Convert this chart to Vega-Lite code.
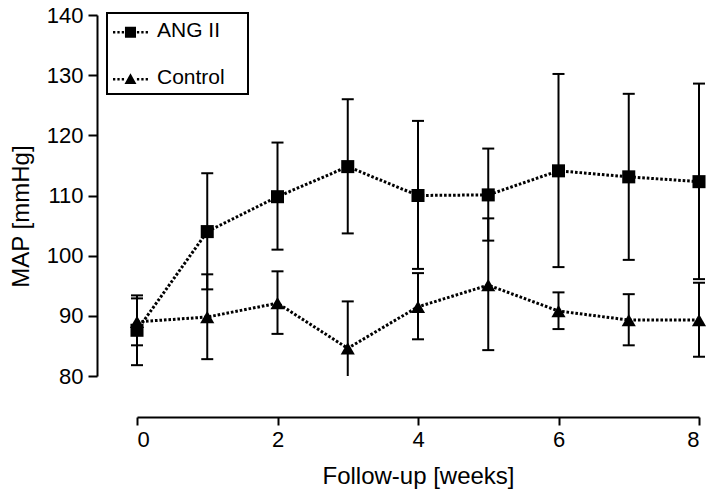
{
  "$schema": "https://vega.github.io/schema/vega-lite/v6.json",
  "width": 562,
  "height": 361,
  "autosize": "none",
  "padding": {"left": 137, "top": 15, "right": 10, "bottom": 116},
  "background": "white",
  "config": {
    "view": {"stroke": null},
    "font": "Liberation Sans",
    "axis": {
      "domainColor": "black", "domainWidth": 2, "tickColor": "black", "tickWidth": 2,
      "labelColor": "black", "labelFontSize": 22, "labelFont": "Liberation Sans",
      "titleColor": "black", "titleFontSize": 24, "titleFontWeight": "normal", "titleFont": "Liberation Sans",
      "grid": false
    },
    "legend": {"strokeColor": "black", "strokeWidth": 2}
  },
  "data": {
    "values": [
      {"week": 0, "group": "ANG II", "mean": 87.6, "lower": 81.8, "upper": 93.4},
      {"week": 1, "group": "ANG II", "mean": 104.0, "lower": 94.4, "upper": 113.7},
      {"week": 2, "group": "ANG II", "mean": 109.8, "lower": 101.0, "upper": 118.8},
      {"week": 3, "group": "ANG II", "mean": 114.8, "lower": 103.7, "upper": 126.0},
      {"week": 4, "group": "ANG II", "mean": 110.0, "lower": 97.8, "upper": 122.4},
      {"week": 5, "group": "ANG II", "mean": 110.1, "lower": 102.5, "upper": 117.8},
      {"week": 6, "group": "ANG II", "mean": 114.1, "lower": 98.1, "upper": 130.2},
      {"week": 7, "group": "ANG II", "mean": 113.1, "lower": 99.3, "upper": 126.9},
      {"week": 8, "group": "ANG II", "mean": 112.3, "lower": 96.1, "upper": 128.6},
      {"week": 0, "group": "Control", "mean": 89.0, "lower": 85.1, "upper": 92.9},
      {"week": 1, "group": "Control", "mean": 89.8, "lower": 82.8, "upper": 96.9},
      {"week": 2, "group": "Control", "mean": 92.1, "lower": 87.0, "upper": 97.4},
      {"week": 3, "group": "Control", "mean": 84.6, "lower": 76.8, "upper": 92.4},
      {"week": 4, "group": "Control", "mean": 91.5, "lower": 86.1, "upper": 97.1},
      {"week": 5, "group": "Control", "mean": 95.1, "lower": 84.3, "upper": 106.2},
      {"week": 6, "group": "Control", "mean": 90.8, "lower": 87.8, "upper": 93.9},
      {"week": 7, "group": "Control", "mean": 89.3, "lower": 85.1, "upper": 93.6},
      {"week": 8, "group": "Control", "mean": 89.3, "lower": 83.2, "upper": 95.5}
    ]
  },
  "encoding": {
    "x": {
      "field": "week", "type": "quantitative",
      "scale": {"domain": [0, 8], "nice": false, "zero": false},
      "axis": {"offset": 41, "values": [0, 2, 4, 6, 8], "tickSize": 8, "labelPadding": 4, "title": "Follow-up [weeks]", "titlePadding": 14}
    }
  },
  "layer": [
    {
      "mark": {"type": "line", "color": "black", "strokeWidth": 3, "strokeDash": [2.6, 1.9]},
      "encoding": {
        "y": {"field": "mean", "type": "quantitative", "scale": {"domain": [80, 140], "nice": false, "zero": false, "clamp": true},
          "axis": {"offset": 40, "values": [80, 90, 100, 110, 120, 130, 140], "tickSize": 9, "labelPadding": 5, "title": "MAP [mmHg]", "titlePadding": 13, "titleY": 201}},
        "detail": {"field": "group"}
      }
    },
    {
      "mark": {"type": "rule", "color": "black", "strokeWidth": 2},
      "encoding": {
        "y": {"field": "lower", "type": "quantitative"},
        "y2": {"field": "upper"}
      }
    },
    {
      "mark": {"type": "tick", "orient": "horizontal", "color": "black", "size": 12, "thickness": 2, "opacity": 1},
      "encoding": {"y": {"field": "upper", "type": "quantitative"}}
    },
    {
      "transform": [{"filter": "datum.lower >= 80"}],
      "mark": {"type": "tick", "orient": "horizontal", "color": "black", "size": 12, "thickness": 2, "opacity": 1},
      "encoding": {"y": {"field": "lower", "type": "quantitative"}}
    },
    {
      "mark": {"type": "point", "filled": true, "color": "black", "opacity": 1},
      "encoding": {
        "y": {"field": "mean", "type": "quantitative"},
        "shape": {"field": "group", "type": "nominal", "scale": {"domain": ["ANG II", "Control"], "range": ["square", "triangle-up"]}, "legend": null},
        "size": {"field": "group", "type": "nominal", "scale": {"domain": ["ANG II", "Control"], "range": [170, 200]}, "legend": null}
      }
    },
    {
      "mark": {"type": "point", "filled": true, "color": "black", "opacity": 0},
      "encoding": {
        "y": {"field": "mean", "type": "quantitative"},
        "shape": {
          "field": "group", "type": "nominal",
          "scale": {"domain": ["ANG II", "Control"], "range": [
            "M-1,0.05H-0.8V0.27H-1Z M-0.62,0.05H-0.42V0.27H-0.62Z M-0.24,0.05H-0.04V0.27H-0.24Z M0.04,-0.32H1V0.64H0.04Z M1.08,0.05H1.28V0.27H1.08Z M1.46,0.05H1.66V0.27H1.46Z M1.84,0.05H2.04V0.27H1.84Z",
            "M-1,0.05H-0.8V0.27H-1Z M-0.62,0.05H-0.42V0.27H-0.62Z M-0.24,0.05H-0.04V0.27H-0.24Z M0.52,-0.36L1.04,0.56L0,0.56Z M1.08,0.05H1.28V0.27H1.08Z M1.46,0.05H1.66V0.27H1.46Z M1.84,0.05H2.04V0.27H1.84Z"
          ]},
          "legend": {
            "title": "\u00a0", "titleOrient": "right", "titlePadding": 17, "titleFontSize": 10,
            "orient": "none", "legendX": -30, "legendY": -2,
            "symbolSize": 529, "symbolFillColor": "black", "symbolStrokeWidth": 0, "symbolOpacity": 1,
            "labelFont": "Liberation Sans", "labelFontSize": 21, "labelColor": "black", "labelOffset": 21,
            "padding": 6, "rowPadding": 25, "strokeColor": "black"
          }
        }
      }
    }
  ],
  "resolve": {"scale": {"shape": "independent", "size": "independent"}}
}
